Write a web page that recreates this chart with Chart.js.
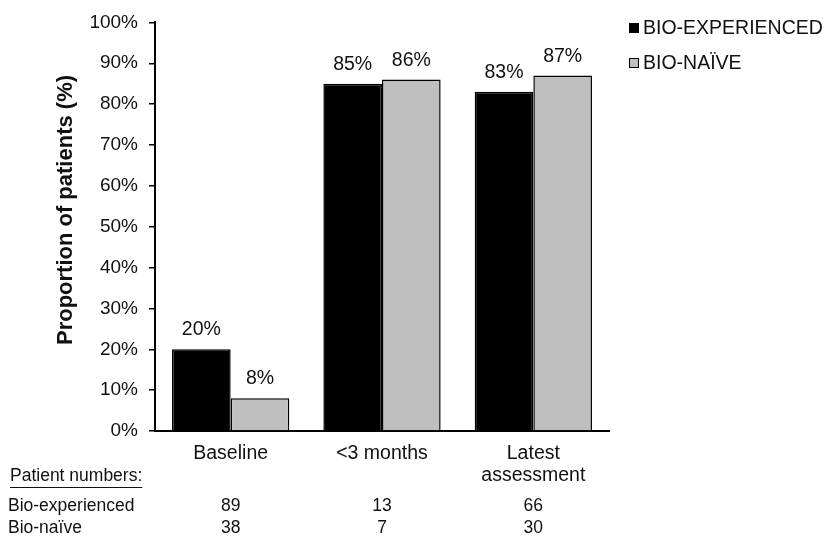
<!DOCTYPE html>
<html>
<head>
<meta charset="utf-8">
<script src="https://cdn.jsdelivr.net/npm/chart.js@4/dist/chart.umd.min.js"></script>
<style>
  html, body { margin: 0; padding: 0; background: #fff; }
  #wrap { width: 830px; height: 538px; position: relative; }
</style>
</head>
<body>
<div id="wrap"><canvas id="c"></canvas></div>
<script>
// Share of patients per time point, by treatment history
const categories = [['Baseline'], ['<3 months'], ['Latest', 'assessment']];
const seriesNames = ['BIO-EXPERIENCED', 'BIO-NAÏVE'];
const bioExperienced = [20, 85, 83];
const bioNaive = [8, 86, 87];
const yTicks = [0, 10, 20, 30, 40, 50, 60, 70, 80, 90, 100];

// Patient counts printed under each time point
const tableHeading = 'Patient numbers:';
const tableRowNames = ['Bio-experienced', 'Bio-naïve'];
const countsExperienced = [89, 13, 66];
const countsNaive = [38, 7, 30];

const FONT = '"Liberation Sans", Arial, sans-serif';
const INK = '#111';

const extras = {
  id: 'extras',
  afterDatasetsDraw(chart) {
    const ctx = chart.ctx;
    ctx.save();
    ctx.fillStyle = INK;
    ctx.font = '19.5px ' + FONT;
    ctx.textAlign = 'center';
    ctx.textBaseline = 'alphabetic';
    chart.data.datasets.forEach((ds, di) => {
      chart.getDatasetMeta(di).data.forEach((bar, i) => {
        ctx.fillText(ds.data[i] + '%', bar.x, bar.y - 14);
      });
    });
    ctx.restore();
  },
  afterDraw(chart) {
    const ctx = chart.ctx;
    const x = chart.scales.x;
    ctx.save();
    ctx.fillStyle = INK;

    // y-axis title
    ctx.save();
    ctx.translate(66, 210);
    ctx.rotate(-Math.PI / 2);
    ctx.font = 'bold 22px ' + FONT;
    ctx.textAlign = 'center';
    ctx.textBaseline = 'middle';
    ctx.fillText('Proportion of patients (%)', 0, 0);
    ctx.restore();

    // legend
    const legendRows = [28, 63];
    ctx.font = '19.5px ' + FONT;
    ctx.textAlign = 'left';
    ctx.textBaseline = 'middle';
    chart.data.datasets.forEach((ds, di) => {
      const cy = legendRows[di];
      ctx.fillStyle = ds.backgroundColor;
      ctx.fillRect(629, cy - 5, 10, 10);
      ctx.strokeStyle = '#000';
      ctx.lineWidth = 1;
      ctx.strokeRect(629.5, cy - 4.5, 9, 9);
      ctx.fillStyle = INK;
      ctx.fillText(seriesNames[di], 643, cy + 1);
    });

    // patient numbers table
    ctx.font = '17.5px ' + FONT;
    ctx.textBaseline = 'alphabetic';
    ctx.textAlign = 'left';
    ctx.fillText(tableHeading, 10, 481);
    const w = ctx.measureText(tableHeading).width;
    ctx.strokeStyle = INK;
    ctx.lineWidth = 1;
    ctx.beginPath();
    ctx.moveTo(10, 487.5);
    ctx.lineTo(10 + w, 487.5);
    ctx.stroke();

    const rows = [countsExperienced, countsNaive];
    const rowY = [511, 533];
    rows.forEach((vals, r) => {
      ctx.textAlign = 'left';
      ctx.fillText(tableRowNames[r], 8, rowY[r]);
      ctx.textAlign = 'center';
      vals.forEach((v, i) => {
        ctx.fillText(String(v), x.getPixelForValue(i), rowY[r]);
      });
    });
    ctx.restore();
  }
};

new Chart(document.getElementById('c'), {
  type: 'bar',
  data: {
    labels: categories,
    datasets: [
      {
        label: seriesNames[0],
        data: bioExperienced,
        backgroundColor: '#000000',
        borderColor: '#000000',
        borderWidth: 1.5
      },
      {
        label: seriesNames[1],
        data: bioNaive,
        backgroundColor: '#bfbfbf',
        borderColor: '#000000',
        borderWidth: 1.5
      }
    ]
  },
  options: {
    responsive: true,
    maintainAspectRatio: false,
    animation: false,
    events: [],
    layout: { padding: { left: 0, top: 17, right: 221, bottom: 0 } },
    datasets: { bar: { categoryPercentage: 0.775, barPercentage: 1.0 } },
    plugins: { legend: { display: false }, tooltip: { enabled: false } },
    scales: {
      x: {
        grid: { display: false, drawTicks: false },
        border: { display: true, color: '#000', width: 2 },
        ticks: {
          color: INK,
          font: { family: FONT, size: 19.5, lineHeight: 1.1 },
          padding: 12,
          maxRotation: 0,
          autoSkip: false
        },
        afterFit(scale) { scale.height = 107; }
      },
      y: {
        min: 0,
        max: 100,
        afterBuildTicks(scale) { scale.ticks = yTicks.map(v => ({ value: v })); },
        grid: {
          drawOnChartArea: false,
          drawTicks: true,
          tickLength: 6,
          color: '#000',
          lineWidth: 1.5
        },
        border: { display: true, color: '#000', width: 2 },
        ticks: {
          color: INK,
          font: { family: FONT, size: 19 },
          padding: 11,
          callback: v => v + '%'
        },
        afterFit(scale) { scale.width = 155; }
      }
    }
  },
  plugins: [extras]
});
</script>
</body>
</html>
